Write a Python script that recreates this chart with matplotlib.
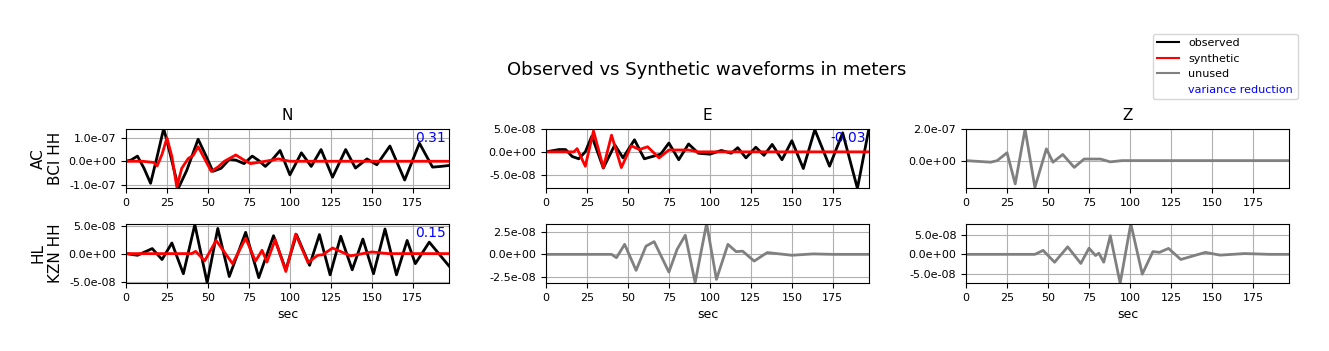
import matplotlib
matplotlib.use("Agg")
import matplotlib.pyplot as plt
from matplotlib.lines import Line2D
from matplotlib.ticker import FormatStrFormatter

# amplitudes below are in units of 1e-8 m
SCALE = 1e-8
T_END = 197

# AC BCI HH, N component
bci_n_obs_t = [0, 3, 7, 11, 15, 19, 23, 27, 32, 37, 44, 49, 53, 58, 63, 67, 72, 77, 81, 85, 89, 94, 100, 107, 113, 119, 126, 134, 140, 147, 153, 161, 170, 179, 187, 192, 197]
bci_n_obs_v = [0, 0.5, 2.2, -3, -9.4, 2, 14.0, 3, -11.4, -4, 9.4, 2, -4.3, -3, 0.8, 0.5, -1.0, 2.2, 0.3, -2.2, 0.5, 4.6, -5.8, 3.6, -2.2, 5.0, -6.8, 5.0, -2.9, 1.0, -1.5, 6.5, -8.0, 7.7, -2.5, -2.2, -1.8]
bci_n_syn_t = [0, 10, 17, 19, 22, 25, 28, 31, 34, 38, 41, 44, 48, 52, 56, 60, 67, 72, 76, 85, 93, 100, 197]
bci_n_syn_v = [0, 0, -0.5, -2.0, 3, 10.0, 2, -11.0, -3, 1.2, 2.5, 6.2, 1, -4.3, -2.5, 0, 2.7, 0.5, -1.0, 0, 1.0, 0, 0]

# AC BCI HH, E component
bci_e_obs_t = [0, 8, 12, 16, 20, 24, 28, 35, 42, 47, 54, 60, 65, 70, 75, 81, 87, 93, 100, 107, 113, 117, 122, 128, 133, 138, 144, 150, 157, 164, 173, 181, 190, 197]
bci_e_obs_v = [0, 0.5, 0.5, -1.0, -1.5, 0, 3.4, -3.5, 1.5, -1.3, 2.6, -1.5, -1.0, -0.5, 1.9, -1.7, 1.7, -0.3, -0.5, 0.3, -0.3, 0.9, -1.3, 1.0, -0.75, 1.6, -1.7, 2.4, -3.6, 4.8, -3.1, 4.1, -7.9, 5.0]
bci_e_syn_t = [0, 17, 19, 24, 29, 35, 40, 46, 52, 57, 62, 69, 75, 87, 93, 197]
bci_e_syn_v = [0, 0, 0.7, -3.1, 4.5, -3.4, 3.6, -3.4, 1.3, 0.5, 1.1, -1.3, 0.4, 0.4, 0, 0]

# AC BCI HH, Z component (unused)
bci_z_t = [0, 15, 19, 25, 30, 36, 42, 49, 53, 59, 66, 72, 82, 88, 95, 197]
bci_z_v = [0, -1, 0, 5, -14.8, 20.0, -17.0, 7.5, -1.0, 3.9, -4.3, 1.0, 1.0, -0.8, 0, 0]

# HL KZN HH, N component
kzn_n_obs_t = [0, 7, 16, 22, 28, 35, 42, 49.5, 56, 63, 73, 81, 90, 97.5, 104, 112, 118, 124.5, 131, 138, 144.5, 151, 158, 165, 171.5, 176.5, 185, 197]
kzn_n_obs_v = [0, -0.3, 0.9, -1.06, 1.9, -3.6, 5.2, -5.2, 4.5, -4.1, 3.8, -4.3, 3.2, -2.9, 3.4, -2.1, 3.4, -3.8, 3.1, -2.9, 2.6, -3.6, 4.4, -3.8, 2.35, -1.8, 2.05, -2.2]
kzn_n_syn_t = [0, 40, 42.5, 48, 55, 65, 73, 79, 83, 86, 91, 97.5, 103.5, 111, 117, 120, 126, 137, 150, 160, 197]
kzn_n_syn_v = [0, 0, 0.4, -1.3, 2.35, -1.8, 2.75, -1.35, 0.6, -1.5, 2.5, -3.2, 3.5, -1.6, -0.3, -0.2, 1.0, -0.4, 0.3, 0, 0]

# HL KZN HH, E component (unused)
kzn_e_t = [0, 40, 43, 48, 55, 61, 66, 75, 80, 85, 91, 98, 104, 111, 116, 120, 127, 135, 140, 150, 163, 175, 197]
kzn_e_v = [0, 0, -0.37, 1.1, -1.76, 0.9, 1.4, -1.95, 0.55, 2.1, -3.1, 3.4, -2.75, 1.1, 0.3, 0.35, -0.74, 0.2, 0.1, -0.1, 0.05, 0, 0]

# HL KZN HH, Z component (unused)
kzn_z_t = [0, 42, 47, 54, 62, 70, 75, 79, 81, 84, 88, 94, 100.5, 107.5, 114, 118, 123.5, 131, 146, 155, 170, 185, 197]
kzn_z_v = [0, 0, 1.0, -2.0, 1.9, -2.3, 1.55, -0.3, 0.3, -2.0, 4.7, -7.3, 7.75, -5.0, 0.7, 0.5, 1.5, -1.3, 0.5, -0.2, 0.2, 0, 0]

stations = ["AC\nBCI HH", "HL\nKZN HH"]
components = ["N", "E", "Z"]
var_red = {(0, 0): "0.31", (0, 1): "-0.03", (1, 0): "0.15"}

ylims = [[(-11.4, 13.9), (-7.8, 5.0), (-17.4, 20.3)],
         [(-5.26, 5.35), (-3.15, 3.37), (-7.25, 7.75)]]
yticks = [[[-10, 0, 10], [-5, 0, 5], [0, 20]],
          [[-5, 0, 5], [-2.5, 0, 2.5], [-5, 0, 5]]]

panels = {
    (0, 0): [(bci_n_obs_t, bci_n_obs_v, "black"), (bci_n_syn_t, bci_n_syn_v, "red")],
    (0, 1): [(bci_e_obs_t, bci_e_obs_v, "black"), (bci_e_syn_t, bci_e_syn_v, "red")],
    (0, 2): [(bci_z_t, bci_z_v, "gray")],
    (1, 0): [(kzn_n_obs_t, kzn_n_obs_v, "black"), (kzn_n_syn_t, kzn_n_syn_v, "red")],
    (1, 1): [(kzn_e_t, kzn_e_v, "gray")],
    (1, 2): [(kzn_z_t, kzn_z_v, "gray")],
}

fig = plt.figure(figsize=(13.29, 3.51), dpi=100)
lefts = [0.0948, 0.4108, 0.7269]
bottoms = [0.4644, 0.1937]
w, h = 0.243, 0.169

for r in range(2):
    for c in range(3):
        ax = fig.add_axes([lefts[c], bottoms[r], w, h])
        for t, v, col in panels[(r, c)]:
            ax.plot(t, [x * SCALE for x in v], color=col, lw=2)
        ax.set_xlim(0, T_END)
        ax.set_ylim(ylims[r][c][0] * SCALE, ylims[r][c][1] * SCALE)
        ax.set_yticks([x * SCALE for x in yticks[r][c]])
        ax.yaxis.set_major_formatter(FormatStrFormatter("%.1e"))
        ax.set_xticks(range(0, 176, 25))
        ax.tick_params(labelsize=8)
        ax.grid(True)
        if (r, c) in var_red:
            ax.text(0.99, 0.84, var_red[(r, c)], color="blue", fontsize=10,
                    ha="right", va="center", transform=ax.transAxes)
        if r == 0:
            ax.set_title(components[c], fontsize=11)
        else:
            ax.set_xlabel("sec", fontsize=9)
        if c == 0:
            ax.set_ylabel(stations[r], fontsize=11)

fig.suptitle("Observed vs Synthetic waveforms in meters", x=0.532, y=0.825, fontsize=13)

handles = [Line2D([], [], color="black", lw=1.5),
           Line2D([], [], color="red", lw=1.5),
           Line2D([], [], color="gray", lw=1.5),
           Line2D([], [], color="none")]
leg = fig.legend(handles, ["observed", "synthetic", "unused", "variance reduction"],
                 loc="upper right", bbox_to_anchor=(0.9805, 0.92), fontsize=8)
leg.get_texts()[3].set_color("blue")

fig.savefig("out.png", dpi=100)
